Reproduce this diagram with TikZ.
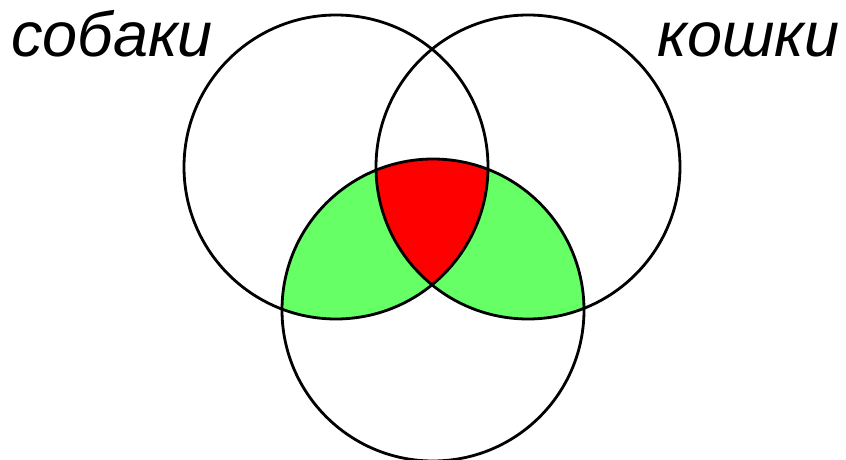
\documentclass[tikz,border=0pt]{standalone}
\usepackage{fontspec}
\setmainfont{Liberation Sans}
\definecolor{vgreen}{HTML}{66FF66}
\definecolor{vred}{HTML}{FF0000}
\begin{document}
\begin{tikzpicture}[x=1pt,y=1pt,
  ring/.style={draw=black,line width=2.8pt},
  lab/.style={font=\fontsize{63}{70}\selectfont\itshape,inner sep=0pt}]
\useasboundingbox (0,0) rectangle (846,459);
\def\cL{(336,292) circle (152)}
\def\cR{(528,292) circle (152)}
\def\cB{(433,149) circle (151)}
% green regions
\begin{scope}
  \clip \cB;
  \fill[vgreen] \cL;
  \fill[vgreen] \cR;
\end{scope}
% red triple intersection
\begin{scope}
  \clip \cB;
  \clip \cL;
  \fill[vred] \cR;
\end{scope}
\draw[ring] \cL;
\draw[ring] \cR;
\draw[ring] \cB;
\node[lab,anchor=base west] (dogs) at (11,402) {собаки};
\node[lab,anchor=base east] (cats) at (840,402) {кошки};
\end{tikzpicture}
\end{document}
